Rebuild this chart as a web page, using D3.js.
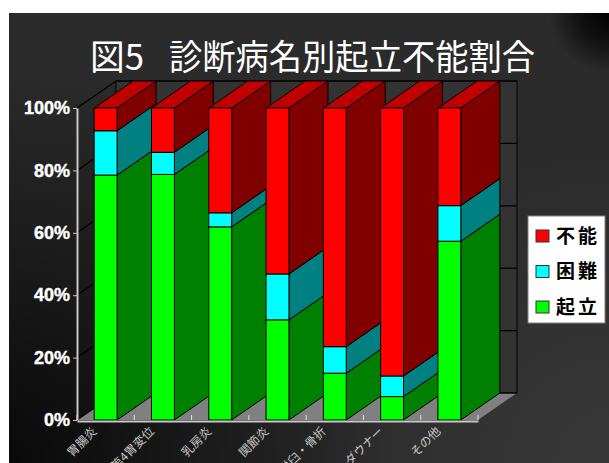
<!DOCTYPE html>
<html><head><meta charset="utf-8">
<script src="https://cdn.jsdelivr.net/npm/d3@7"></script>
<style>body{margin:0;background:#fff}</style>
</head><body>
<script>
const categories = ["胃腸炎","第4胃変位","乳房炎","関節炎","股関節脱臼・骨折","ダウナー","その他"];
const standing  = [78.5, 78.7, 61.9, 32.1, 15.0, 7.5, 57.3];
const difficult = [14.2, 7.1, 4.5, 14.7, 8.5, 6.6, 11.4];
const unable    = [7.3, 14.2, 33.6, 53.2, 76.5, 85.9, 31.3];
const seriesNames = ["起立","困難","不能"];
const yTicks = [0,20,40,60,80,100];
const titlePrefix = "図5";
const titleMain = "診断病名別起立不能割合";

const W=609,H=463;
const frontCol = {"起立":"#00ff00","困難":"#00ffff","不能":"#ff0000"};
const sideCol  = {"起立":"#008000","困難":"#008080","不能":"#800000"};
const topCol = "#c00000";
const DX=39, DY=-27;

const svg = d3.select("body").append("svg").attr("width",W).attr("height",H);
const defs = svg.append("defs");
const g1 = defs.append("radialGradient").attr("id","bl").attr("gradientUnits","userSpaceOnUse")
  .attr("cx",0).attr("cy",H).attr("r",400);
g1.append("stop").attr("offset",0).attr("stop-color","#000").attr("stop-opacity",0.8);
g1.append("stop").attr("offset",1).attr("stop-color","#000").attr("stop-opacity",0);
const g2 = defs.append("radialGradient").attr("id","br").attr("gradientUnits","userSpaceOnUse")
  .attr("cx",W).attr("cy",H).attr("r",320);
g2.append("stop").attr("offset",0).attr("stop-color","#fff").attr("stop-opacity",0.06);
g2.append("stop").attr("offset",1).attr("stop-color","#fff").attr("stop-opacity",0);
const g3 = defs.append("radialGradient").attr("id","tr").attr("gradientUnits","userSpaceOnUse")
  .attr("cx",W).attr("cy",13).attr("r",60);
g3.append("stop").attr("offset",0).attr("stop-color","#000").attr("stop-opacity",1);
g3.append("stop").attr("offset",0.5).attr("stop-color","#000").attr("stop-opacity",0.6);
g3.append("stop").attr("offset",1).attr("stop-color","#000").attr("stop-opacity",0);

["#2b2b2b","url(#bl)","url(#br)","url(#tr)"].forEach(f=>
  svg.append("rect").attr("x",9).attr("y",13).attr("width",W-9).attr("height",H-13).attr("fill",f));

svg.append("text").attr("x",90).attr("y",70).attr("text-anchor","start")
  .attr("textLength",54).attr("lengthAdjust","spacingAndGlyphs")
  .attr("font-family","'Noto Sans CJK JP'").attr("font-size",35).attr("fill","#fff").text(titlePrefix);
svg.append("text").attr("x",169).attr("y",70).attr("text-anchor","start")
  .attr("textLength",366).attr("lengthAdjust","spacingAndGlyphs")
  .attr("font-family","'Noto Sans CJK JP'").attr("font-size",35).attr("fill","#fff").text(titleMain);

const x = d3.scaleBand().domain(categories).range([77,478]).paddingInner(0.6).paddingOuter(0.3);
const y = d3.scaleLinear().domain([0,100]).range([420,108]);
const bw = x.bandwidth(), step = x.step();
const x0 = x.range()[0], x1 = x.range()[1];

// floor
svg.append("polygon").attr("points",[[x0,y(0)],[x1,y(0)],[x1+DX,y(0)+DY],[x0+DX,y(0)+DY]].join(" "))
  .attr("fill","#808080");
// back wall
svg.append("rect").attr("x",x0+DX).attr("y",y(100)+DY).attr("width",x1-x0).attr("height",y(0)-y(100))
  .attr("fill","#333").attr("stroke","#000");
svg.append("g").selectAll("line").data(yTicks).join("line")
  .attr("x1",x0+DX).attr("x2",x1+DX).attr("y1",d=>y(d)+DY).attr("y2",d=>y(d)+DY)
  .attr("stroke","#000").attr("stroke-width",1.2);
// left wall gridlines
svg.append("g").selectAll("line").data(yTicks).join("line")
  .attr("x1",x0).attr("x2",x0+DX).attr("y1",d=>y(d)).attr("y2",d=>y(d)+DY)
  .attr("stroke","#000").attr("stroke-width",1.2);
// floor ticks
const bounds = d3.range(categories.length+1).map(i=> i<categories.length ? x(categories[i])-(step-bw)/2 : x(categories[i-1])+bw+(step-bw)/2);
svg.append("g").selectAll("line").data(bounds).join("line")
  .attr("x1",d=>d).attr("x2",d=>d).attr("y1",y(0)).attr("y2",y(0)-5)
  .attr("stroke","#e0e0e0").attr("stroke-width",1);

// stacked data
const table = categories.map((c,i)=>({cat:c,"起立":standing[i],"困難":difficult[i],"不能":unable[i]}));
const stacked = d3.stack().keys(seriesNames)(table);

const barsG = svg.append("g");
categories.forEach((c,i)=>{
  const g = barsG.append("g");
  const xl = x(c), xr = xl+bw;
  stacked.forEach(layer=>{
    const d = layer[i]; const ya=y(d[0]), yb=y(d[1]);
    g.append("polygon").attr("points",[[xr,yb],[xr+DX,yb+DY],[xr+DX,ya+DY],[xr,ya]].join(" "))
      .attr("fill",sideCol[layer.key]).attr("stroke","#000").attr("stroke-width",1).attr("stroke-linejoin","round");
  });
  const topLayer = stacked[stacked.length-1][i];
  const yt = y(topLayer[1]);
  g.append("polygon").attr("points",[[xl,yt],[xr,yt],[xr+DX,yt+DY],[xl+DX,yt+DY]].join(" "))
    .attr("fill",topCol).attr("stroke","#000").attr("stroke-width",1);
  stacked.forEach(layer=>{
    const d = layer[i]; const ya=y(d[0]), yb=y(d[1]);
    g.append("rect").attr("x",xl).attr("y",yb).attr("width",bw).attr("height",ya-yb)
      .attr("fill",frontCol[layer.key]).attr("stroke","#000").attr("stroke-width",1);
  });
});

// y axis
const yAxis = svg.append("g").attr("transform",`translate(${x0},0)`)
  .call(d3.axisLeft(y).tickValues(yTicks).tickFormat(d=>d+"%").tickSize(4).tickSizeOuter(0).tickPadding(3));
yAxis.select(".domain").attr("stroke","#c8c8c8").attr("stroke-width",2);
yAxis.selectAll(".tick line").attr("stroke","#c8c8c8");
yAxis.selectAll("text").attr("fill","#fff").attr("font-family","'Liberation Sans',Arial,sans-serif")
  .attr("font-weight","bold").attr("font-size",18).attr("stroke","#fff").attr("stroke-width",0.4);

// x axis
const xAxis = svg.append("g").attr("transform",`translate(0,${y(0)+1})`)
  .call(d3.axisBottom(x).tickSize(0).tickSizeOuter(0));
xAxis.select(".domain").attr("stroke","#c8c8c8").attr("stroke-width",2);
xAxis.selectAll("text").attr("x",0).attr("y",0).attr("dy","0.35em")
  .attr("text-anchor","end").attr("transform","translate(-11,8) rotate(-45)")
  .attr("fill","#c8c8c8").attr("font-family","'Noto Sans CJK JP'").attr("font-size",12);

// legend
const lg = svg.append("g");
lg.append("rect").attr("x",528).attr("y",216).attr("width",77).attr("height",107)
  .attr("fill","#fff").attr("stroke","#808080");
const legendItems = seriesNames.slice().reverse();
lg.selectAll("g.item").data(legendItems).join("g").attr("class","item")
  .attr("transform",(d,i)=>`translate(536,${236+i*35.5})`)
  .each(function(d){
    const s = d3.select(this);
    s.append("rect").attr("x",0).attr("y",-6).attr("width",13).attr("height",12)
      .attr("fill",frontCol[d]).attr("stroke","#333").attr("stroke-width",1);
    s.append("text").attr("x",20).attr("y",0).attr("dy","0.36em")
      .attr("font-family","'Noto Sans CJK JP'").attr("font-weight","bold").attr("font-size",19)
      .attr("letter-spacing",3).attr("fill","#000").text(d);
  });
</script>
</body></html>
